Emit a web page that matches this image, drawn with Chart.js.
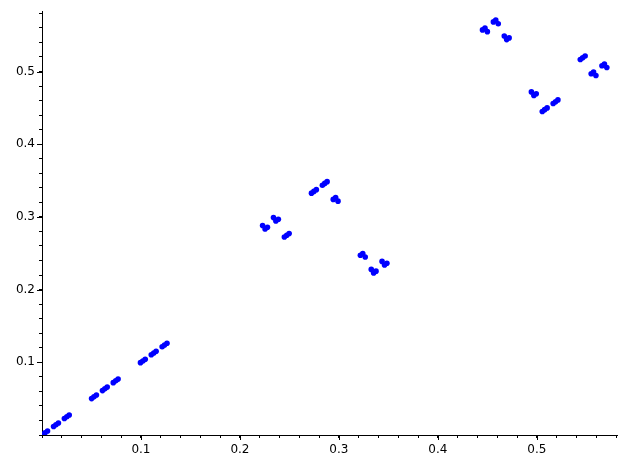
<!DOCTYPE html>
<html>
<head>
<meta charset="utf-8">
<script src="https://cdn.jsdelivr.net/npm/chart.js@4/dist/chart.umd.min.js"></script>
<style>
  html, body { margin: 0; padding: 0; background: #ffffff; }
</style>
</head>
<body>
<canvas id="plot" width="628" height="468"></canvas>
<script>
// point positions, cluster by cluster (left to right)
const xValues = [
  0.0007, 0.0031, 0.0056, 0.0117, 0.0141, 0.0166, 0.0226, 0.0251, 0.0275,
  0.0501, 0.0525, 0.0550, 0.0611, 0.0635, 0.0659, 0.0720, 0.0745, 0.0769,
  0.0995, 0.1019, 0.1043, 0.1104, 0.1129, 0.1153, 0.1214, 0.1238, 0.1263,
  0.2229, 0.2254, 0.2278, 0.2339, 0.2363, 0.2388, 0.2449, 0.2473, 0.2497,
  0.2723, 0.2747, 0.2772, 0.2833, 0.2857, 0.2881, 0.2943, 0.2967, 0.2991,
  0.3217, 0.3241, 0.3266, 0.3327, 0.3351, 0.3375, 0.3436, 0.3461, 0.3485,
  0.4451, 0.4476, 0.4500, 0.4561, 0.4585, 0.4610, 0.4671, 0.4695, 0.4720,
  0.4945, 0.4970, 0.4994, 0.5055, 0.5079, 0.5104, 0.5165, 0.5189, 0.5213,
  0.5439, 0.5463, 0.5488, 0.5549, 0.5573, 0.5597, 0.5658, 0.5683, 0.5707
];
const yValues = [
  0.0007, 0.0031, 0.0056, 0.0117, 0.0141, 0.0166, 0.0226, 0.0251, 0.0275,
  0.0501, 0.0525, 0.0550, 0.0611, 0.0635, 0.0659, 0.0720, 0.0745, 0.0769,
  0.0995, 0.1019, 0.1043, 0.1104, 0.1129, 0.1153, 0.1214, 0.1238, 0.1263,
  0.2881, 0.2833, 0.2857, 0.2991, 0.2943, 0.2967, 0.2723, 0.2747, 0.2772,
  0.3327, 0.3351, 0.3375, 0.3436, 0.3461, 0.3485, 0.3241, 0.3266, 0.3217,
  0.2473, 0.2497, 0.2449, 0.2278, 0.2229, 0.2254, 0.2388, 0.2339, 0.2363,
  0.5573, 0.5597, 0.5549, 0.5683, 0.5707, 0.5658, 0.5488, 0.5439, 0.5463,
  0.4720, 0.4671, 0.4695, 0.4451, 0.4476, 0.4500, 0.4561, 0.4585, 0.4610,
  0.5165, 0.5189, 0.5213, 0.4970, 0.4994, 0.4945, 0.5079, 0.5104, 0.5055
];
const xTickLabels = [0.1, 0.2, 0.3, 0.4, 0.5];
const yTickLabels = [0.1, 0.2, 0.3, 0.4, 0.5];
const xMax = 0.581;
const yMax = 0.583;

var points = [];
for (var i = 0; i < xValues.length; i++) {
  points.push({x: xValues[i], y: yValues[i]});
}

function isMajor(v, list) {
  return list.some(t => Math.abs(t - v) < 1e-6);
}

// longer ticks for the labelled values
const majorTicks = {
  id: 'majorTicks',
  afterDraw: (chart) => {
    const ctx = chart.ctx;
    const xs = chart.scales.x, ys = chart.scales.y;
    ctx.save();
    ctx.strokeStyle = '#000';
    ctx.lineWidth = 1;
    ctx.beginPath();
    xTickLabels.forEach(v => {
      var px = Math.round(xs.getPixelForValue(v)) + 0.5;
      ctx.moveTo(px, xs.top);
      ctx.lineTo(px, xs.top + 5);
    });
    yTickLabels.forEach(v => {
      var py = Math.round(ys.getPixelForValue(v)) + 0.5;
      ctx.moveTo(ys.right, py);
      ctx.lineTo(ys.right - 5, py);
    });
    ctx.stroke();
    ctx.restore();
  }
};

new Chart(document.getElementById('plot'), {
  type: 'scatter',
  data: {
    datasets: [{
      data: points,
      backgroundColor: '#0000ff',
      borderWidth: 0,
      pointRadius: 2.8,
      pointHoverRadius: 2.8
    }]
  },
  options: {
    responsive: false,
    animation: false,
    layout: { padding: { left: 0, right: 11, top: 9, bottom: 0 } },
    plugins: { legend: { display: false }, tooltip: { enabled: false } },
    scales: {
      x: {
        type: 'linear',
        min: 0,
        max: xMax,
        afterFit: (scale) => { scale.height = 33; },
        border: { color: '#000', width: 1 },
        grid: { drawOnChartArea: false, drawTicks: true, tickLength: 3, color: '#000' },
        ticks: {
          stepSize: 0.02,
          includeBounds: false,
          autoSkip: false,
          maxRotation: 0,
          padding: 5,
          color: '#000',
          font: { family: 'DejaVu Sans', size: 12 },
          callback: (v) => isMajor(v, xTickLabels) ? v.toFixed(1) : ''
        }
      },
      y: {
        type: 'linear',
        min: 0,
        max: yMax,
        afterFit: (scale) => { scale.width = 42; },
        border: { color: '#000', width: 1 },
        grid: { drawOnChartArea: false, drawTicks: true, tickLength: 3, color: '#000' },
        ticks: {
          stepSize: 0.02,
          includeBounds: false,
          autoSkip: false,
          padding: 4,
          color: '#000',
          font: { family: 'DejaVu Sans', size: 12 },
          callback: (v) => isMajor(v, yTickLabels) ? v.toFixed(1) : ''
        }
      }
    }
  },
  plugins: [majorTicks]
});
</script>
</body>
</html>
